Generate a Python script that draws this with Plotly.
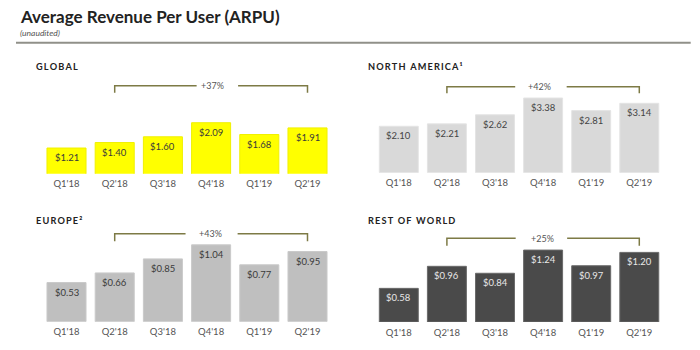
import plotly.graph_objects as go

# ---- data ----
quarters = ["Q1'18", "Q2'18", "Q3'18", "Q4'18", "Q1'19", "Q2'19"]
global_arpu = [1.21, 1.40, 1.60, 2.09, 1.68, 1.91]
na_arpu = [2.10, 2.21, 2.62, 3.38, 2.81, 3.14]
europe_arpu = [0.53, 0.66, 0.85, 1.04, 0.77, 0.95]
row_arpu = [0.58, 0.96, 0.84, 1.24, 0.97, 1.20]
panel_titles = ["GLOBAL", "NORTH AMERICA¹", "EUROPE²", "REST OF WORLD"]
growth_labels = ["+37%", "+42%", "+43%", "+25%"]

W, H = 700, 350
FONT = "Lato"


def fx(px):
    return px / W


def fy(py):
    return 1 - py / H


def spaced(s):
    return "\u2009".join(list(s))


panels = [
    dict(vals=global_arpu, color="#ffff00", txt="#3a3a3a", line="#f0f000",
         xl=42.4, xr=331.6, bottom=173.7, slope=28.75, y0=0.317,
         title_xy=(34, 67), br_y=85.7, br_tick=92.7, gap=(2.70, 3.56), gtxt=3.02),
    dict(vals=na_arpu, color="#d9d9d9", txt="#444444", line="#e4e4e4",
         xl=374.75, xr=663.35, bottom=172.7, slope=22.1, y0=0.0,
         title_xy=(366, 67), br_y=86.7, br_tick=93.3, gap=(2.42, 3.49), gtxt=2.93),
    dict(vals=europe_arpu, color="#bfbfbf", txt="#3a3a3a", line="#cacaca",
         xl=42.4, xr=331.6, bottom=321.7, slope=73.9, y0=0.0,
         title_xy=(34, 220), br_y=233.7, br_tick=241.3, gap=(2.47, 3.55), gtxt=2.98),
    dict(vals=row_arpu, color="#4a4a4a", txt="#e8e8e8", line="#6a6a6a",
         xl=374.75, xr=663.35, bottom=322.0, slope=58.0, y0=0.0,
         title_xy=(366, 220), br_y=238.3, br_tick=245.7, gap=(2.43, 3.50), gtxt=2.98),
]

fig = go.Figure()
layout_axes = {}
shapes = []
annotations = []

PLOT_H = 95  # px height of each y domain

for i, p in enumerate(panels):
    n = "" if i == 0 else str(i + 1)
    xa, ya = "x" + n, "y" + n
    fig.add_trace(go.Bar(
        x=quarters, y=p["vals"], xaxis=xa, yaxis=ya,
        marker=dict(color=p["color"], line=dict(color=p["line"], width=1)),
        hoverinfo="skip", showlegend=False,
    ))
    for q, v in zip(quarters, p["vals"]):
        annotations.append(dict(x=q, y=v, xref=xa, yref=ya,
                                text=f"${v:.2f}", showarrow=False,
                                xanchor="center", yanchor="top", yshift=-2,
                                font=dict(family=FONT, size=9.5, color=p["txt"])))
    top_px = p["bottom"] - PLOT_H
    layout_axes["xaxis" + n] = dict(
        domain=[fx(p["xl"]), fx(p["xr"])], anchor=ya,
        range=[-0.5, 5.5], showgrid=False, zeroline=False, showline=False,
        ticks="", ticklabelstandoff=3,
        tickfont=dict(family=FONT, size=9.5, color="#555555"),
        fixedrange=True,
    )
    layout_axes["yaxis" + n] = dict(
        domain=[fy(p["bottom"]), fy(top_px)], anchor=xa,
        range=[p["y0"], p["y0"] + PLOT_H / p["slope"]],
        visible=False, fixedrange=True,
    )
    # bracket
    bc = "#7d7a45"
    yb, yt = fy(p["br_y"]), fy(p["br_tick"])
    shapes.append(dict(type="path", xref=xa, yref="paper",
                       path=f"M 1,{yt} L 1,{yb} L {p['gap'][0]},{yb}",
                       line=dict(color=bc, width=1.5)))
    shapes.append(dict(type="path", xref=xa, yref="paper",
                       path=f"M {p['gap'][1]},{yb} L 5,{yb} L 5,{yt}",
                       line=dict(color=bc, width=1.5)))
    annotations.append(dict(x=p["gtxt"], y=yb, xref=xa, yref="paper",
                            text=growth_labels[i], showarrow=False,
                            xanchor="center", yanchor="middle",
                            font=dict(family=FONT, size=9, color="#555555")))
    tx, ty = p["title_xy"]
    annotations.append(dict(x=fx(tx), y=fy(ty), xref="paper", yref="paper",
                            text="<b>" + spaced(panel_titles[i]) + "</b>",
                            showarrow=False, xanchor="left", yanchor="middle",
                            font=dict(family=FONT, size=9.2, color="#222222")))

# main title
annotations.append(dict(x=fx(18), y=fy(16.5), xref="paper", yref="paper",
                        text="<b>Average Revenue Per User (ARPU)</b>",
                        showarrow=False, xanchor="left", yanchor="middle",
                        font=dict(family=FONT, size=17, color="#222222")))
annotations.append(dict(x=fx(18), y=fy(33), xref="paper", yref="paper",
                        text="<i>(unaudited)</i>",
                        showarrow=False, xanchor="left", yanchor="middle",
                        font=dict(family=FONT, size=8.5, color="#555555")))
shapes.append(dict(type="line", xref="paper", yref="paper",
                   x0=fx(16), x1=fx(690.7), y0=fy(42.7), y1=fy(42.7),
                   line=dict(color="#909089", width=2)))

fig.update_layout(
    width=W, height=H, autosize=False,
    margin=dict(l=0, r=0, t=0, b=0),
    paper_bgcolor="white", plot_bgcolor="white",
    bargap=0.19, shapes=shapes, annotations=annotations,
    font=dict(family=FONT),
    **layout_axes,
)

fig.write_html("out.html", config={"displayModeBar": False})
